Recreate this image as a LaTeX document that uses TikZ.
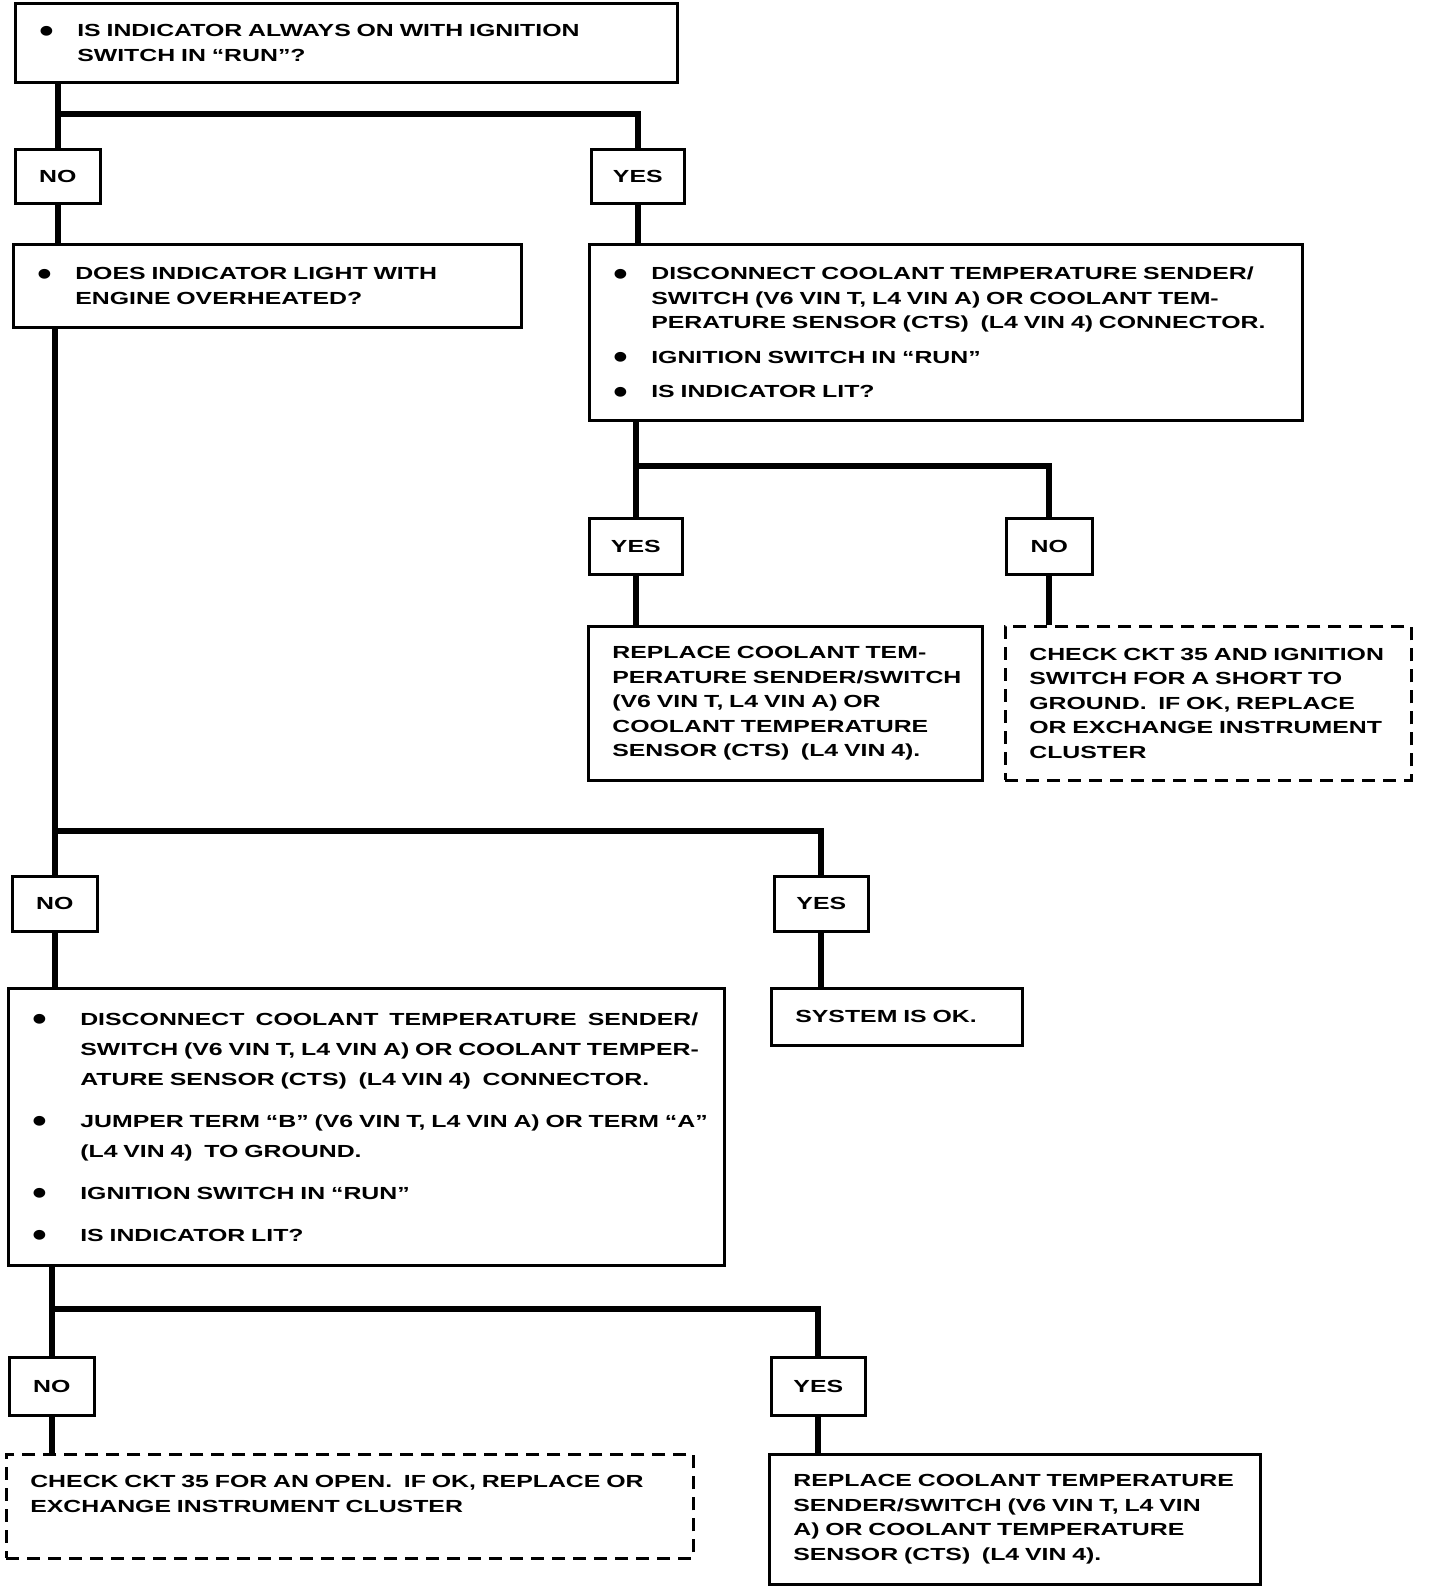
\documentclass[tikz,border=0pt]{standalone}
\usepackage{fontspec}
\newfontfamily\chartfont{Liberation Sans Bold}[FakeStretch=1.42]
\newfontfamily\dotfont{Liberation Sans Bold}[FakeStretch=1.2]
\usepackage{tikz}
\usetikzlibrary{positioning,calc}
\newcommand{\bigdot}{\smash{\raisebox{-5.5pt}{\dotfont\fontsize{34}{34}\selectfont\textbullet}}}
\newcommand{\bul}[2][38pt]{\makebox[#1][l]{\bigdot}\mbox{#2}}
\newcommand{\ind}[2][38pt]{\hspace*{#1}\mbox{#2}}
\tikzset{
  flowline/.style={line width=6pt},
  asknode/.style={draw, line width=2.6pt, anchor=north west, inner xsep=24pt, inner ysep=4pt, align=left},
  checknode/.style={asknode, dash pattern=on 13pt off 8pt},
  nonode/.style={draw, line width=2.6pt, anchor=north west, inner sep=0pt, minimum width=85pt, minimum height=56pt},
  yesnode/.style={nonode, minimum width=93pt}
}

\begin{document}
\begin{tikzpicture}[x=1pt, y=-1pt, every node/.style={font=\chartfont\fontsize{17.5}{24.5}\selectfont}]
  \useasboundingbox (0,0) rectangle (1440,1586);
  \coordinate (j1) at (0,114);
  \coordinate (j2) at (0,466);
  \coordinate (j3) at (0,831);
  \coordinate (j4) at (0,1309);
  % questions and answers
  \node[asknode, text width=614pt, minimum height=79pt] (q1) at (14,2)
    {\bul{IS INDICATOR ALWAYS ON WITH IGNITION}\\ \ind{SWITCH IN “RUN”?}};
  \node[nonode, minimum height=54pt] (no1) at (14,148) {NO};
  \node[yesnode, minimum height=54pt] (yes1) at (590,148) {YES};
  \node[asknode, text width=460pt, minimum height=83pt] (q2) at (12,243)
    {\bul{DOES INDICATOR LIGHT WITH}\\ \ind{ENGINE OVERHEATED?}};
  \node[asknode, text width=665pt, minimum height=176pt] (q3) at (588,243)
    {\bul{DISCONNECT COOLANT TEMPERATURE SENDER/}\\
     \ind{SWITCH (V6 VIN T, L4 VIN A) OR COOLANT TEM-}\\
     \ind{PERATURE SENSOR (CTS)\ \ (L4 VIN 4) CONNECTOR.}\\[10pt]
     \bul{IGNITION SWITCH IN “RUN”}\\[10pt]
     \bul{IS INDICATOR LIT?}};
  \node[yesnode] (yes2) at (588,517) {YES};
  \node[nonode, minimum width=86pt] (no2) at (1005,517) {NO};
  \node[asknode, text width=346pt, minimum height=154pt] (fix1) at (587,625)
    {\mbox{REPLACE COOLANT TEM-}\\ \mbox{PERATURE SENDER/SWITCH}\\
     \mbox{(V6 VIN T, L4 VIN A) OR}\\ \mbox{COOLANT TEMPERATURE}\\
     \mbox{SENSOR (CTS)\ \ (L4 VIN 4).}};
  \node[checknode, text width=358pt, minimum height=154pt] (chk1) at (1004,625)
    {\mbox{CHECK CKT 35 AND IGNITION}\\ \mbox{SWITCH FOR A SHORT TO}\\
     \mbox{GROUND.\ \ IF OK, REPLACE}\\ \mbox{OR EXCHANGE INSTRUMENT}\\
     \mbox{CLUSTER}};
  \node[nonode, minimum height=55pt] (no3) at (11,875) {NO};
  \node[yesnode, minimum width=94pt, minimum height=55pt] (yes3) at (773,875) {YES};
  \node[asknode, text width=668pt, minimum height=277pt,
        font=\chartfont\fontsize{17.5}{30}\selectfont] (q6) at (7,987)
    {\bul[48pt]{\makebox[618pt][s]{DISCONNECT\hfill COOLANT\hfill TEMPERATURE\hfill SENDER/}}\\
     \ind[48pt]{SWITCH (V6 VIN T, L4 VIN A) OR COOLANT TEMPER-}\\
     \ind[48pt]{ATURE SENSOR (CTS)\ \ (L4 VIN 4)\ \ CONNECTOR.}\\[12pt]
     \bul[48pt]{JUMPER TERM “B” (V6 VIN T, L4 VIN A) OR TERM “A”}\\
     \ind[48pt]{(L4 VIN 4)\ \ TO GROUND.}\\[12pt]
     \bul[48pt]{IGNITION SWITCH IN “RUN”}\\[12pt]
     \bul[48pt]{IS INDICATOR LIT?}};
  \node[asknode, text width=203pt, minimum height=57pt] (ok1) at (770,987) {SYSTEM IS OK.};
  \node[nonode, minimum height=58pt] (no4) at (8,1356) {NO};
  \node[yesnode, minimum width=94pt, minimum height=58pt] (yes4) at (770,1356) {YES};
  \node[checknode, text width=639pt, minimum height=104pt] (chk2) at (5,1453)
    {\mbox{CHECK CKT 35 FOR AN OPEN.\ \ IF OK, REPLACE OR}\\
     \mbox{EXCHANGE INSTRUMENT CLUSTER}\\ \mbox{}};
  \node[asknode, text width=443pt, minimum height=130pt] (fix2) at (768,1453)
    {\mbox{REPLACE COOLANT TEMPERATURE}\\ \mbox{SENDER/SWITCH (V6 VIN T, L4 VIN}\\
     \mbox{A) OR COOLANT TEMPERATURE}\\ \mbox{SENSOR (CTS)\ \ (L4 VIN 4).}};
  % branch lines
  \draw[flowline] (q1.south -| no1) -- (no1.north);
  \draw[flowline] (no1 |- j1) -| (yes1.north);
  \draw[flowline] (no1.south) -- (no1.south |- q2.north);
  \draw[flowline] (yes1.south) -- (yes1.south |- q3.north);
  \draw[flowline] (q3.south -| yes2) -- (yes2.north);
  \draw[flowline] (yes2 |- j2) -| (no2.north);
  \draw[flowline] (yes2.south) -- (yes2.south |- fix1.north);
  \draw[flowline] (no2.south) -- (no2.south |- chk1.north);
  \draw[flowline] (q2.south -| no3) -- (no3.north);
  \draw[flowline] (no3 |- j3) -| (yes3.north);
  \draw[flowline] (no3.south) -- (no3.south |- q6.north);
  \draw[flowline] (yes3.south) -- (yes3.south |- ok1.north);
  \draw[flowline] (q6.south -| no4) -- (no4.north);
  \draw[flowline] (no4 |- j4) -| (yes4.north);
  \draw[flowline] (no4.south) -- (no4.south |- chk2.north);
  \draw[flowline] (yes4.south) -- (yes4.south |- fix2.north);
\end{tikzpicture}
\end{document}
